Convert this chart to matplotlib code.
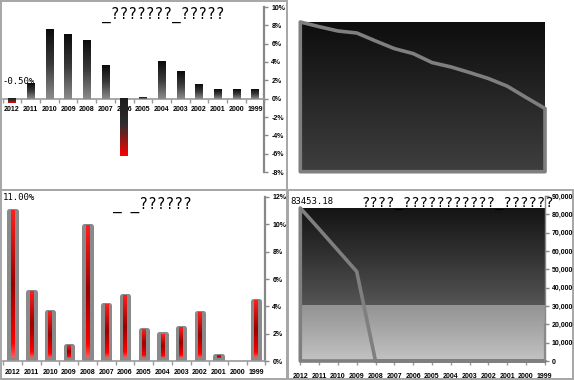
import numpy as np
import matplotlib
matplotlib.use('Agg')
import matplotlib.pyplot as plt
from matplotlib.colors import LinearSegmentedColormap
from matplotlib.ticker import FuncFormatter, MultipleLocator

# ---------------- data ----------------
years = ['2012', '2011', '2010', '2009', '2008', '2007', '2006',
         '2005', '2004', '2003', '2002', '2001', '2000', '1999']
growth = [-0.5, 1.7, 7.6, 7.0, 6.4, 3.7, -6.3, 0.2, 4.1, 3.0, 1.6, 1.0, 1.0, 1.0]
trend = [450, 436, 423, 417, 393, 370, 355, 328, 315, 298, 280, 257, 223, 190]
rate = [11.0, 5.07, 3.6, 1.1, 9.9, 4.1, 4.75, 2.3, 1.95, 2.4, 3.5, 0.4, 0.0, 4.4]
amount = [83453.18, 72000, 60400, 48800, 0, 0, 0, 0, 0, 0, 0, 0, 0, 0]
title1 = "_???????_?????"
title3 = "_ _??????"
title4 = "????_???????????_??????"
label1 = "-0.50%"
label3 = "11.00%"
label4 = "83453.18"

W, H = 574, 380
fig = plt.figure(figsize=(W / 100, H / 100), dpi=100)
fig.patch.set_facecolor('white')

GRAY = '#888888'
TICKFONT = dict(family='Liberation Sans', size=5, weight='bold')
MONO = 'DejaVu Sans Mono'


def px_axes(x0, y0, x1, y1, **kw):
    return fig.add_axes([x0 / W, 1 - y1 / H, (x1 - x0) / W, (y1 - y0) / H], **kw)


def ftext(x, y, s, **kw):
    fig.text(x / W, 1 - y / H, s, **kw)


# overlay for panel borders
ov = px_axes(0, 0, W, H, zorder=-5)
ov.set_xlim(0, W)
ov.set_ylim(H, 0)
ov.axis('off')
bc = '#a6a6a6'
for (x0, y0, x1, y1) in [(0.8, 1.2, 286.5, 190), (0.8, 190, 286.5, 378.5), (287.5, 190, 573.2, 378.5)]:
    ov.plot([x0, x1, x1, x0, x0], [y0, y0, y1, y1, y0], color=bc, lw=1.4, solid_joinstyle='miter')

pos_cmap = LinearSegmentedColormap.from_list('pos', ['#0b0b0b', '#3a3a3a', '#8c8c8c'])
neg_cmap = LinearSegmentedColormap.from_list('neg', [(0, '#1c1c1c'), (0.45, '#2e2e2e'),
                                                     (0.7, '#8a1a1a'), (1, '#ff0000')])
red_cmap = LinearSegmentedColormap.from_list('red', [(0, '#ff2020'), (0.5, '#990000'),
                                                     (0.9, '#ff0000'), (1, '#ff6060')])
grad = np.linspace(0, 1, 256).reshape(-1, 1)


def grad_rect(ax, l, r, b, t, cmap, z=3):
    ax.imshow(grad, extent=[l, r, b, t], origin='upper', aspect='auto', cmap=cmap,
              interpolation='bilinear', zorder=z)


def style_right_axis(ax):
    for s in ['top', 'left']:
        ax.spines[s].set_visible(False)
    ax.spines['right'].set_color(GRAY)
    ax.spines['right'].set_linewidth(1.6)
    ax.yaxis.tick_right()
    ax.tick_params(axis='y', which='major', direction='out', length=3, width=1,
                   color=GRAY, pad=2)
    for lab in ax.get_yticklabels():
        lab.set_fontproperties(dict(TICKFONT))


x = np.arange(len(years))

# ---------------- panel 1 ----------------
ax1 = px_axes(2.65, 7, 264.4, 172)
ax1.set_facecolor('none')
for xi, v in zip(x, growth):
    if v >= 0:
        grad_rect(ax1, xi - 0.2, xi + 0.2, 0, v, pos_cmap)
    else:
        grad_rect(ax1, xi - 0.2, xi + 0.2, v, 0, neg_cmap)
ax1.set_xlim(-0.5, 13.5)
ax1.set_ylim(-8, 10)
ax1.yaxis.set_major_locator(MultipleLocator(2))
ax1.yaxis.set_major_formatter(FuncFormatter(lambda v, p: f"{int(round(v))}%"))
style_right_axis(ax1)
ax1.spines['bottom'].set_position(('data', 0))
ax1.spines['bottom'].set_color('#999999')
ax1.spines['bottom'].set_linewidth(1.2)
ax1.set_xticks(x)
ax1.set_xticklabels(years, **TICKFONT)
ax1.set_xticks(np.arange(-0.5, 14, 1), minor=True)
ax1.tick_params(axis='x', which='major', length=0, pad=5)
ax1.tick_params(axis='x', which='minor', length=3, width=1, color='#999999', direction='out')
ftext(163, 15, title1, family=MONO, size=10.5, ha='center', va='center')
ftext(2, 81, label1, family=MONO, size=6.5, ha='left', va='center')

# ---------------- panel 2 ----------------
ax2 = px_axes(300.3, 22, 545, 171.7)
ax2.imshow(grad, extent=[0, 1, 0, 1], transform=ax2.transAxes, origin='upper', aspect='auto',
           cmap=LinearSegmentedColormap.from_list('bg2', ['#0d0d0d', '#262626', '#3f3f3f']),
           zorder=0)
ax2.fill_between(x, trend, 0, facecolor='none', edgecolor='#7f7f7f', linewidth=2.6,
                 joinstyle='round', clip_on=False, zorder=3)
ax2.set_xlim(0, 13)
ax2.set_ylim(0, max(trend))
ax2.axis('off')

# ---------------- panel 3 ----------------
ax3 = px_axes(3.3, 197, 265.4, 361)
ax3.set_facecolor('none')
for xi, v in zip(x, rate):
    if v <= 0:
        continue
    ax3.bar(xi, v, width=0.34, color='#808080', edgecolor='#8a8a8a', linewidth=3.6,
            joinstyle='round', zorder=2)
    grad_rect(ax3, xi - 0.09, xi + 0.09, 0.2, v, red_cmap, z=3)
ax3.set_xlim(-0.5, 13.5)
ax3.set_ylim(0, 12)
ax3.yaxis.set_major_locator(MultipleLocator(2))
ax3.yaxis.set_major_formatter(FuncFormatter(lambda v, p: f"{int(round(v))}%"))
style_right_axis(ax3)
ax3.spines['bottom'].set_color('#999999')
ax3.spines['bottom'].set_linewidth(1.2)
ax3.set_xticks(x)
ax3.set_xticklabels(years, **TICKFONT)
ax3.set_xticks(np.arange(-0.5, 14, 1), minor=True)
ax3.tick_params(axis='x', which='major', length=0, pad=6)
ax3.tick_params(axis='x', which='minor', length=3, width=1, color='#999999', direction='out')
ftext(152, 205, title3, family=MONO, size=10.5, ha='center', va='center')
ftext(3, 198, label3, family=MONO, size=6.5, ha='left', va='center')

# ---------------- panel 4 ----------------
ax4 = px_axes(300.3, 196, 544.7, 361)
ax4.set_facecolor('none')
top4 = max(amount)
band = 30000
grad_rect(ax4, 0, 13, band, top4,
          LinearSegmentedColormap.from_list('dk', ['#141414', '#333333', '#555555']), z=0)
grad_rect(ax4, 0, 13, 0, band,
          LinearSegmentedColormap.from_list('lt', ['#939393', '#aaaaaa', '#c3c3c3']), z=0)
ax4.fill_between(x, amount, 0, facecolor='none', edgecolor='#7f7f7f', linewidth=2.6,
                 joinstyle='round', clip_on=False, zorder=3)
ax4.plot([13, 13], [0, 20000], color='#8a8a8a', lw=1.6, zorder=3)
ax4.set_xlim(0, 13)
ax4.set_ylim(0, 90000)
ax4.yaxis.set_major_locator(MultipleLocator(10000))
ax4.yaxis.set_major_formatter(FuncFormatter(lambda v, p: f"{int(round(v)):,}"))
style_right_axis(ax4)
ax4.spines['right'].set_linewidth(1.0)
ax4.spines['bottom'].set_visible(False)
ax4.set_xticks(x)
ax4.set_xticklabels(years, **TICKFONT)
ax4.tick_params(axis='x', which='major', length=3, width=1, color='#999999', pad=6)
ftext(458, 203, title4, family=MONO, size=10, ha='center', va='center')
ftext(290, 202, label4, family=MONO, size=6.5, ha='left', va='center')

fig.savefig('out.png', dpi=100, facecolor='white')
